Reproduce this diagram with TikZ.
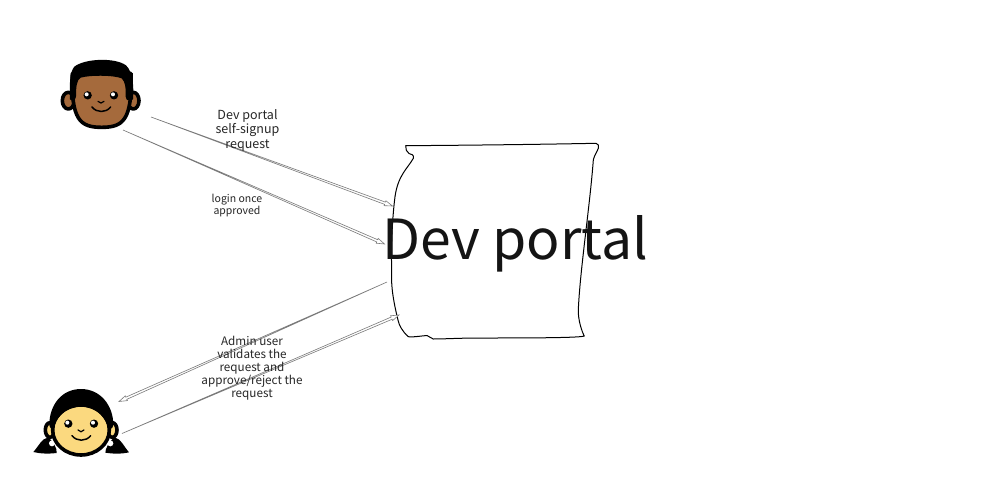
\documentclass[tikz,border=0pt]{standalone}
\usepackage{fontspec}
\setmainfont{Noto Sans CJK JP}
\usetikzlibrary{calc}
\definecolor{skinbrown}{HTML}{A56A3C}
\definecolor{skinyellow}{HTML}{FBD97F}
\definecolor{linegray}{HTML}{7A7A7A}
\tikzset{
  conn/.style={draw=linegray,line width=.6pt,fill=white,line join=miter},
  label/.style={align=center,text=black!85,inner sep=0pt},
  outline/.style={draw=black,line width=3.6pt,line join=round},
  thinout/.style={draw=black,line width=1pt,line join=round,line cap=round},
}
\newcommand{\hollowarrow}[2]{%
  \coordinate (hb) at ($(#2)!8pt!(#1)$);
  \draw[conn] (#1) -- ($(hb)!1.2pt!90:(#2)$) -- ($(hb)!2.6pt!90:(#2)$) -- (#2)
     -- ($(hb)!2.6pt!-90:(#2)$) -- ($(hb)!1.2pt!-90:(#2)$) -- cycle;
}
\begin{document}
\begin{tikzpicture}[x=1pt,y=-1pt]
\useasboundingbox (0,0) rectangle (1000,479);
% document blob
\draw[black,line width=1pt,fill=white,line join=round] (405.7,145.7)
  .. controls (500,145) and (560,144) .. (596,143.3)
  .. controls (598.5,143.5) and (599,146) .. (598.3,148.3)
  .. controls (597,152) and (594,156) .. (593.3,160)
  .. controls (590,205) and (580,270) .. (578.3,310)
  .. controls (578,320) and (582,332) .. (584.3,336)
  .. controls (580,338) and (520,338) .. (480,338)
  .. controls (460,338) and (445,339) .. (433.3,339)
  .. controls (430,338.5) and (430,336) .. (427,335.5)
  .. controls (420,336) and (412,337.5) .. (408.3,336.7)
  .. controls (402,331) and (399,325) .. (398,320)
  .. controls (393,300) and (391,285) .. (391.7,273.3)
  .. controls (391,250) and (392,220) .. (395,196.7)
  .. controls (398,175) and (408,168) .. (413.3,158.3)
  .. controls (414,155) and (412,154) .. (409,153.5)
  .. controls (406,152) and (406,149) .. (405.7,145.7) -- cycle;
% boy
\begin{scope}[shift={(40,40)},x=.3333pt,y=-.3333pt]
  \draw[outline,fill=skinbrown] (85,182) ellipse [x radius=18,y radius=25];
  \draw[outline,fill=skinbrown] (280,182) ellipse [x radius=17,y radius=25];
  \draw[outline,fill=skinbrown] (97,100) .. controls (93,240) and (120,262) .. (185,262)
     .. controls (250,262) and (277,240) .. (273,100) -- cycle;
  \fill[black] (90,178) .. controls (88,130) and (90,95) .. (103,80)
     .. controls (135,55) and (225,52) .. (258,76)
     .. controls (278,95) and (282,135) .. (279,178)
     .. controls (270,184) and (258,184) .. (257,170)
     .. controls (258,140) and (255,125) .. (245,115)
     .. controls (220,105) and (150,105) .. (122,113)
     .. controls (110,120) and (108,140) .. (108,170)
     .. controls (106,184) and (95,184) .. (90,178) -- cycle;
  \fill[black] (143,166) circle [radius=12.5];
  \fill[black] (222,166) circle [radius=12.5];
  \fill[white] (140,163) circle [radius=6];
  \fill[white] (219,163) circle [radius=6];
  \draw[thinout,line width=1.2pt] (174,184) .. controls (178,191) and (188,191) .. (192,184);
  \draw[thinout,line width=1.5pt] (156,201) .. controls (170,219) and (198,219) .. (212,201);
\end{scope}
% girl
\begin{scope}[shift={(20,375)},x=.3333pt,y=-.3333pt]
  \fill[black] (40,231) .. controls (55,215) and (65,190) .. (85,187)
     .. controls (100,200) and (112,220) .. (110,234) .. controls (85,237) and (60,236) .. (40,231) -- cycle;
  \fill[black] (327,232) .. controls (312,215) and (302,190) .. (283,187)
     .. controls (268,200) and (256,220) .. (256,233) .. controls (280,237) and (305,237) .. (327,232) -- cycle;
  \fill[white] (96,205) circle [radius=9];
  \fill[white] (271,205) circle [radius=9];
  \draw[outline,fill=skinyellow] (90,165) ellipse [x radius=14,y radius=22];
  \draw[outline,fill=skinyellow] (277,165) ellipse [x radius=14,y radius=22];
  \draw[outline,fill=skinyellow] (183,165) ellipse [x radius=85,y radius=75];
  \fill[black] (88,150) .. controls (88,90) and (125,42) .. (183,42)
     .. controls (240,42) and (280,90) .. (280,150)
     .. controls (278,160) and (272,165) .. (266,158)
     .. controls (250,115) and (220,95) .. (183,95)
     .. controls (146,95) and (115,115) .. (100,158)
     .. controls (95,165) and (90,160) .. (88,150) -- cycle;
  \fill[black] (145,146) circle [radius=12.5];
  \fill[black] (222,146) circle [radius=12.5];
  \fill[white] (142,143) circle [radius=6];
  \fill[white] (219,143) circle [radius=6];
  \draw[thinout,line width=1.2pt] (174,165) .. controls (178,172) and (188,172) .. (192,165);
  \draw[thinout,line width=1.5pt] (156,182) .. controls (170,200) and (198,200) .. (212,182);
\end{scope}
% connector ends
\coordinate (a1s) at (151,117); \coordinate (a1e) at (392.5,206);
\coordinate (a2s) at (123,130); \coordinate (a2e) at (384.5,244);
\coordinate (a3s) at (387,282); \coordinate (a3e) at (119,401.5);
\coordinate (a4s) at (122,433.5); \coordinate (a4e) at (399,315);
\hollowarrow{a1s}{a1e}
\hollowarrow{a2s}{a2e}
\hollowarrow{a3s}{a3e}
\hollowarrow{a4s}{a4e}
% labels
\node[inner sep=0pt,anchor=base,font=\fontsize{55.3}{55.3}\selectfont,text=black!92] (portal) at (515,259) {Dev portal};
\node[label,font=\fontsize{12.5}{14.5}\selectfont] (l1) at (247.5,130) {Dev portal\\self-signup\\request};
\node[label,font=\fontsize{10.5}{12}\selectfont] (l2) at (237,206) {login once\\approved};
\node[label,font=\fontsize{11.7}{13.1}\selectfont] (l3) at (252,368) {Admin user\\validates the\\request and\\approve/reject the\\request};
\end{tikzpicture}
\end{document}
